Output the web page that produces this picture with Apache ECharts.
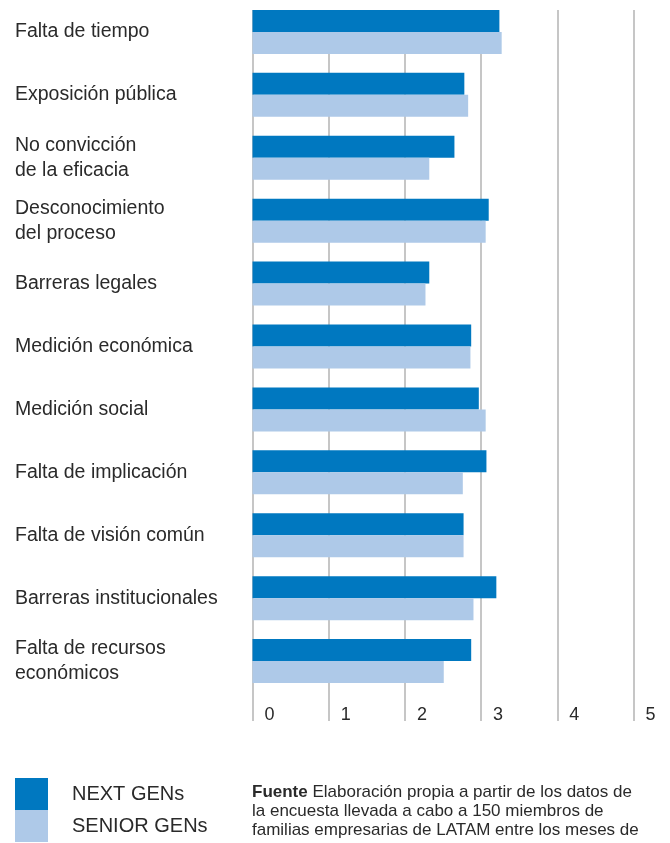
<!DOCTYPE html>
<html>
<head>
<meta charset="utf-8">
<script src="https://cdn.jsdelivr.net/npm/echarts@6/dist/echarts.min.js"></script>
<style>
  html, body { margin: 0; padding: 0; background: #ffffff; }
  #chart { width: 670px; height: 843px; }
</style>
</head>
<body>
<div id="chart"></div>
<script>
// Barriers, top to bottom
const categories = [
  'Falta de tiempo',
  'Exposición pública',
  'No convicción\nde la eficacia',
  'Desconocimiento\ndel proceso',
  'Barreras legales',
  'Medición económica',
  'Medición social',
  'Falta de implicación',
  'Falta de visión común',
  'Barreras institucionales',
  'Falta de recursos\neconómicos'
];

const nextGens   = [3.24, 2.78, 2.65, 3.10, 2.32, 2.87, 2.97, 3.07, 2.77, 3.20, 2.87];
const seniorGens = [3.27, 2.83, 2.32, 3.06, 2.27, 2.86, 3.06, 2.76, 2.77, 2.90, 2.51];

const scaleTicks = [0, 1, 2, 3, 4, 5];

const seriesNames = ['NEXT GENs', 'SENIOR GENs'];
const sourceNote = [
  'Elaboración propia a partir de los datos de',
  'la encuesta llevada a cabo a 150 miembros de',
  'familias empresarias de LATAM entre los meses de'
];

const FONT = '"Liberation Sans", Arial, sans-serif';
const TEXT = '#2a2a2a';
const DARK = '#0078c0';
const LIGHT = '#aec9e8';
const GRIDLINE = '#b3b3b3';

const chart = echarts.init(document.getElementById('chart'), null, { renderer: 'canvas' });

chart.setOption({
  animation: false,
  backgroundColor: '#ffffff',
  textStyle: { fontFamily: FONT },
  grid: [
    // bars
    { left: 252.5, top: 0.5, width: 381, height: 692, containLabel: false },
    // scale lines and tick labels
    { left: 252.5, top: 10, width: 381, height: 711, containLabel: false }
  ],
  xAxis: [
    {
      gridIndex: 0, type: 'value', min: scaleTicks[0], max: scaleTicks[scaleTicks.length - 1], interval: 1,
      show: false
    },
    {
      gridIndex: 1, type: 'value', min: scaleTicks[0], max: scaleTicks[scaleTicks.length - 1], interval: 1,
      axisLine: { show: false },
      axisTick: { show: false },
      splitLine: { show: true, showMinLine: true, showMaxLine: true, lineStyle: { color: GRIDLINE, width: 1.5 } },
      axisLabel: {
        inside: true,
        margin: -3,
        align: 'left',
        padding: [0, 0, 0, 12],
        fontSize: 18,
        color: TEXT,
        fontFamily: FONT,
        showMinLabel: true,
        showMaxLabel: true
      }
    }
  ],
  yAxis: [
    {
      gridIndex: 0, type: 'category', data: categories, inverse: true,
      axisLine: { show: false },
      axisTick: { show: false },
      splitLine: { show: false },
      axisLabel: {
        margin: 237.5,
        align: 'left',
        fontSize: 19.5,
        lineHeight: 25,
        padding: [7, 0, 0, 0],
        color: TEXT,
        fontFamily: FONT,
        interval: 0
      }
    },
    {
      gridIndex: 1, type: 'value', show: false
    }
  ],
  legend: {
    orient: 'vertical',
    left: 15,
    top: 778,
    itemWidth: 33,
    itemHeight: 32,
    itemGap: 0,
    padding: 0,
    icon: 'rect',
    selectedMode: false,
    data: seriesNames,
    textStyle: { fontSize: 20, color: TEXT, fontFamily: FONT, padding: [0, 0, 0, 19] }
  },
  series: [
    {
      name: seriesNames[0], type: 'bar', xAxisIndex: 0, yAxisIndex: 0,
      data: nextGens, barWidth: 22, barGap: '0%',
      itemStyle: { color: DARK }, z: 3
    },
    {
      name: seriesNames[1], type: 'bar', xAxisIndex: 0, yAxisIndex: 0,
      data: seniorGens, barWidth: 22, barGap: '0%',
      itemStyle: { color: LIGHT }, z: 3
    }
  ],
  graphic: [
    {
      type: 'text',
      left: 252,
      top: 783,
      style: {
        text: '{b|Fuente} ' + sourceNote.join('\n'),
        font: '17px ' + FONT,
        fill: TEXT,
        lineHeight: 19,
        rich: {
          b: { fontWeight: 'bold', fontSize: 17, fontFamily: FONT, fill: TEXT, lineHeight: 19 }
        }
      }
    }
  ]
});
</script>
</body>
</html>
